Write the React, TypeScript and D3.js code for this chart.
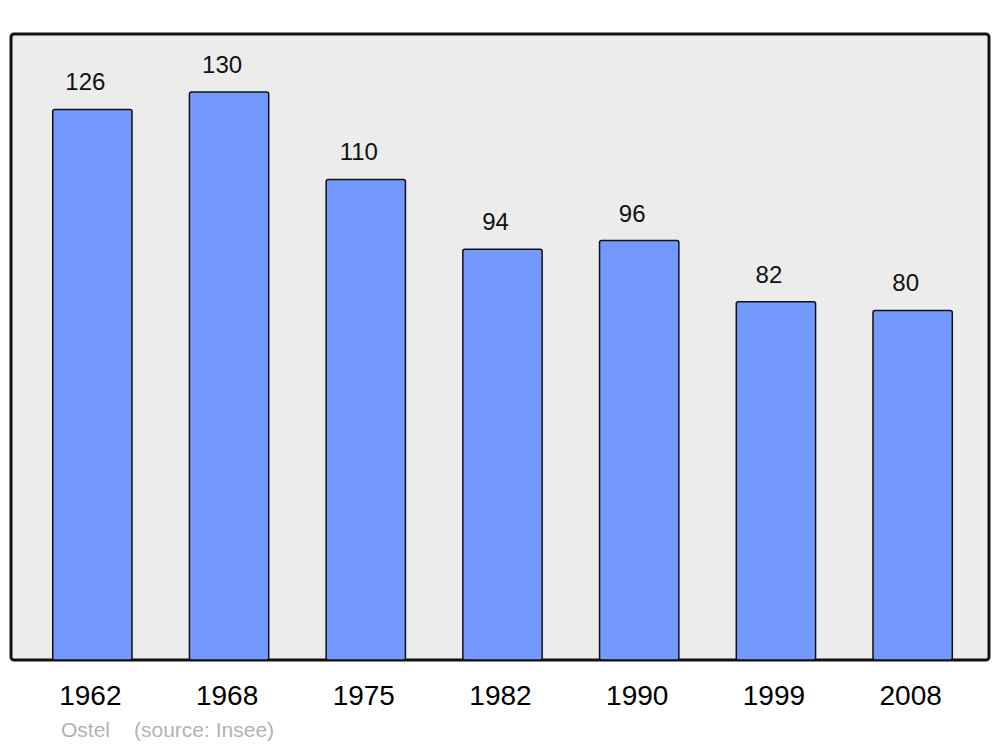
import React from "react";
import * as d3 from "d3";

const years = ["1962", "1968", "1975", "1982", "1990", "1999", "2008"];
const population = [126, 130, 110, 94, 96, 82, 80];
const sourceLabel = "Ostel";
const sourceNote = "(source: Insee)";

export default function App() {
  const W = 1000;
  const H = 747;
  const x = d3
    .scaleBand<string>()
    .domain(years)
    .range([24, 981])
    .paddingInner(0.42)
    .paddingOuter(0.21);
  const y = d3.scaleLinear().domain([0, 130]).range([660, 92]);
  const font = "Liberation Sans, Arial, sans-serif";
  return (
    <svg
      width={W}
      height={H}
      style={{ position: "absolute", left: 0, top: 0 }}
      fontFamily={font}
    >
      <rect x={0} y={0} width={W} height={H} fill="#ffffff" />
      <rect
        x={11}
        y={34}
        width={978}
        height={626}
        rx={3}
        ry={3}
        fill="#ececec"
        stroke="#111"
        strokeWidth={3}
      />
      {years.map((yr, i) => {
        const bx = x(yr)!;
        const by = y(population[i]);
        return (
          <g key={yr}>
            <rect
              x={bx}
              y={by}
              width={x.bandwidth()}
              height={y(0) - by}
              rx={2}
              ry={2}
              fill="#7399ff"
              stroke="#111"
              strokeWidth={1.5}
            />
            <text
              x={bx + x.bandwidth() / 2 - 7}
              y={by - 19}
              textAnchor="middle"
              fontSize={24}
              fill="#111"
            >
              {population[i]}
            </text>
            <text
              x={bx + x.bandwidth() / 2 - 2}
              y={705}
              textAnchor="middle"
              fontSize={28}
              fill="#000"
            >
              {yr}
            </text>
          </g>
        );
      })}
      <text x={61} y={737} fontSize={21} fill="#b3b3b3">
        {sourceLabel}
      </text>
      <text x={134} y={737} fontSize={21} fill="#b3b3b3">
        {sourceNote}
      </text>
    </svg>
  );
}
